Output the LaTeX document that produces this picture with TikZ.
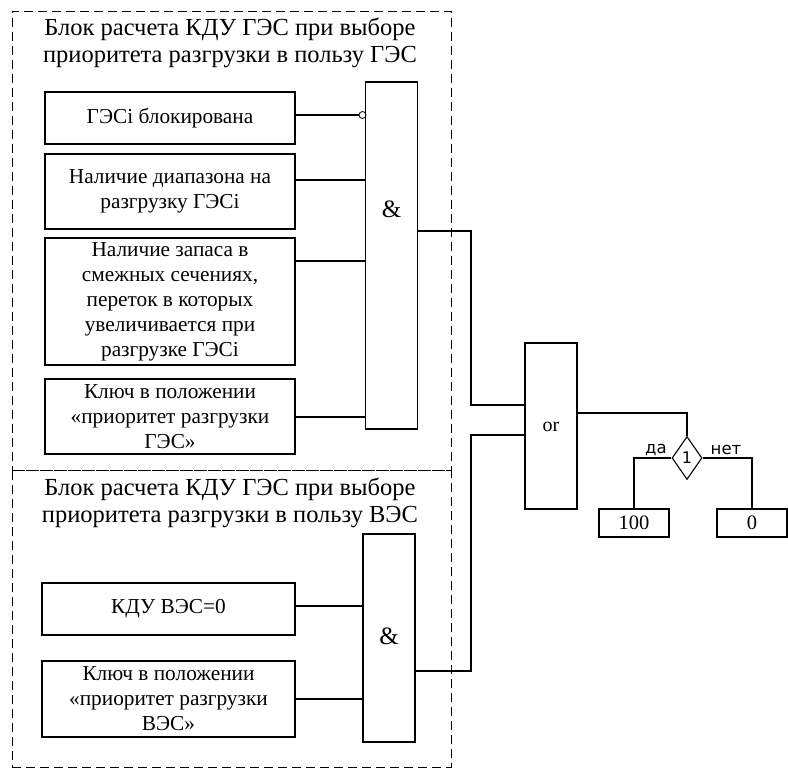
\documentclass[tikz,border=0pt]{standalone}
\usepackage{fontspec}
\setmainfont{Liberation Serif}
\newfontfamily\sansf{DejaVu Sans}
\usetikzlibrary{shapes.geometric}
\begin{document}
\begin{tikzpicture}[x=1pt,y=-1pt,line width=1.1pt,
  box/.style={draw,rectangle,inner sep=0pt,align=center,font=\fontsize{21.3}{25}\selectfont},
  gate/.style={draw,rectangle,inner sep=0pt,minimum width=52pt},
  glabel/.style={font=\fontsize{25}{27}\selectfont},
  title/.style={align=center,inner sep=0pt,font=\fontsize{24.5}{27}\selectfont},
  frame/.style={draw,dash pattern=on 9pt off 5pt,line width=1pt},
  slabel/.style={font=\sansf\fontsize{16.5}{18}\selectfont,inner sep=0pt},
  numbox/.style={draw,rectangle,inner sep=0pt,minimum width=70pt,minimum height=28pt,font=\fontsize{20.5}{22}\selectfont}]
\useasboundingbox (0,0) rectangle (788,771);
% frames
\node[frame,rectangle,inner sep=0pt,minimum width=439pt,minimum height=459pt] (fr1) at (231.5,240.5) {};
\node[frame,rectangle,inner sep=0pt,minimum width=439pt,minimum height=297pt] (fr2) at (231.5,618.5) {};
\node[title] (t1) at (230,43) {Блок расчета КДУ ГЭС при выборе\\приоритета разгрузки в пользу ГЭС};
\node[title] (t2) at (230,503) {Блок расчета КДУ ГЭС при выборе\\приоритета разгрузки в пользу ВЭС};
% top boxes
\node[box,minimum width=250pt,minimum height=52pt] (b1) at (170,118) {ГЭСi блокирована};
\node[box,minimum width=250pt,minimum height=75pt] (b2) at (170,191.5) {Наличие диапазона на\\разгрузку ГЭСi};
\node[box,minimum width=250pt,minimum height=127pt] (b3) at (170,301.5) {Наличие запаса в\\смежных сечениях,\\переток в которых\\увеличивается при\\разгрузке ГЭСi};
\node[box,minimum width=250pt,minimum height=75pt] (b4) at (170,416.5) {Ключ в положении\\«приоритет разгрузки\\ГЭС»};
\node[gate,minimum height=347pt] (and1) at (391.5,255.5) {};
\node[glabel] (l1) at (391.5,209) {\&};
% bottom boxes
\node[box,minimum width=253pt,minimum height=52pt] (b5) at (168.5,609) {КДУ ВЭС=0};
\node[box,minimum width=253pt,minimum height=76pt] (b6) at (168.5,699) {Ключ в положении\\«приоритет разгрузки\\ВЭС»};
\node[gate,minimum height=208pt] (and2) at (389,638) {};
\node[glabel] (l2) at (389,636) {\&};
% or gate
\node[gate,minimum height=166pt] (or) at (551,426) {};
\node[glabel,font=\fontsize{20}{22}\selectfont] (l3) at (551,427) {or};
% diamond and outputs
\node[draw,diamond,inner sep=0pt,minimum width=30pt,minimum height=43pt,font=\sansf\fontsize{16}{18}\selectfont] (dia) at (687,458) {1};
\node[numbox] (b100) at (634,523) {100};
\node[numbox] (b0) at (752,523) {0};
\node[slabel] (da) at (656,450) {да};
\node[slabel] (net) at (726,450) {нет};
% inputs
\node[draw,circle,inner sep=0pt,minimum size=7pt,line width=0.8pt] (neg) at (362.5,115) {};
\coordinate (i2) at (366,180);
\coordinate (i3) at (366,261);
\coordinate (i4) at (366,417);
\coordinate (i5) at (363,606);
\coordinate (i6) at (363,699);
\draw (b1.east |- neg) -- (neg.west);
\draw (b2.east |- i2) -- (i2);
\draw (b3.east |- i3) -- (i3);
\draw (b4.east |- i4) -- (i4);
\draw (b5.east |- i5) -- (i5);
\draw (b6.east |- i6) -- (i6);
% to or
\coordinate (bus) at (471,0);
\coordinate (a1o) at (417.5,231);
\coordinate (a2o) at (415,671);
\coordinate (or1) at (525,405);
\coordinate (or2) at (525,435);
\draw (a1o) -| (bus |- or1) -- (or1);
\draw (a2o) -| (bus |- or2) -- (or2);
\coordinate (oro) at (577,413);
\draw (oro) -| (dia.north);
\draw (dia.west) -| (b100.north);
\draw (dia.east) -| (b0.north);
\end{tikzpicture}
\end{document}
